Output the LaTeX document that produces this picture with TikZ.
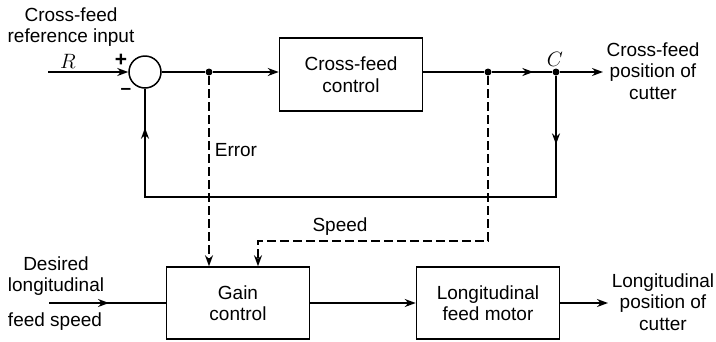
\documentclass[tikz,border=0pt]{standalone}
\usepackage{fontspec}
\setmainfont{Liberation Sans}
\usetikzlibrary{arrows.meta,decorations.markings}

\begin{document}
\begin{tikzpicture}[x=1pt,y=-1pt,
  line width=1.7pt,
  tip/.style={-{Stealth[length=11pt,width=8pt]}},
  midarrow/.style={postaction={decorate},
    decoration={markings,mark=at position #1 with {\arrow{Stealth[length=11pt,width=8pt]}}}},
  twoarrows/.style 2 args={postaction={decorate},
    decoration={markings,
      mark=at position #1 with {\arrow{Stealth[length=11pt,width=8pt]}},
      mark=at position #2 with {\arrow{Stealth[length=11pt,width=8pt]}}}},
  lbl/.style={font=\fontsize{19}{21.5}\selectfont, align=center, inner sep=0pt},
  blockbox/.style={draw, rectangle, minimum width=143pt, inner sep=0pt, line width=1.5pt,
    font=\fontsize{19}{21.5}\selectfont, align=center},
  sumcirc/.style={draw, circle, minimum size=32pt, inner sep=0pt, line width=1.5pt},
  dot/.style={circle, fill, inner sep=0pt, minimum size=7pt},
  dashline/.style={line width=1.4pt, dash pattern=on 9pt off 4pt},
  mathlbl/.style={font=\fontsize{21}{23}\selectfont, inner sep=0pt}]

\useasboundingbox (0,0) rectangle (716,341);

% ---- cross-feed loop ----
\coordinate (rin) at (48,72);
\node[sumcirc] (sum) at (145,72) {};
\node[dot] (err) at (209,72) {};
\node[blockbox, minimum height=73pt] (cfc) at (351,74.5) {Cross-feed\\control};
\node[dot] (spd) at (488,72) {};
\node[dot] (cpt) at (556,72) {};
\coordinate (cout) at (603,72);
\coordinate (fbR) at (556,197);
\coordinate (fbL) at (145,197);

% ---- longitudinal chain ----
\node[blockbox, minimum height=72pt] (gc) at (238,303) {Gain\\control};
\node[blockbox, minimum height=72pt] (lfm) at (488,303) {Longitudinal\\feed motor};
\coordinate (lin) at (49,303);
\coordinate (lout) at (608,303);
\coordinate (sc1) at (488,241);
\coordinate (sc2) at (258,241);

% ---- labels ----
\node[lbl] (tl) at (71,27) {Cross-feed\\reference input};
\node[mathlbl] (rl) at (68,61) {$R$};
\node[lbl, font=\fontsize{21}{23}\selectfont\bfseries] (plus) at (121,60) {+};
\node[lbl, font=\fontsize{19}{21.5}\selectfont\bfseries] (minus) at (126,91) {–};
\node[mathlbl] (cl) at (555,59) {$C$};
\node[lbl] (cfo) at (653,71) {Cross-feed\\position of\\cutter};
\node[lbl, anchor=west] (errl) at (214,150) {Error};
\node[lbl] (spdl) at (340,227) {Speed};
\node[lbl] (des) at (56,276) {Desired\\longitudinal};
\node[lbl] (fsp) at (55,322) {feed speed};
\node[lbl] (lpo) at (663,302) {Longitudinal\\position of\\cutter};

% ---- connectors ----
\draw[tip] (rin) -- (sum.west);
\draw (sum.east) -- (err);
\draw[tip] (err) -- (err -| cfc.west);
\draw (cfc.east |- spd) -- (spd);
\draw[midarrow=41pt] (spd) -- (cpt);
\draw[tip] (cpt) -- (cout);
\draw[twoarrows={68pt}{-39pt}] (cpt) -- (fbR) -- (fbL) -- (sum.south);

\draw[dashline, tip] (err) -- (err |- gc.north);
\draw[dashline, tip] (spd) -- (sc1) -- (sc2) -- (sc2 |- gc.north);

\draw[midarrow=60pt] (lin) -- (gc.west);
\draw[tip] (gc.east) -- (lfm.west);
\draw[tip] (lfm.east) -- (lout);

\end{tikzpicture}
\end{document}
